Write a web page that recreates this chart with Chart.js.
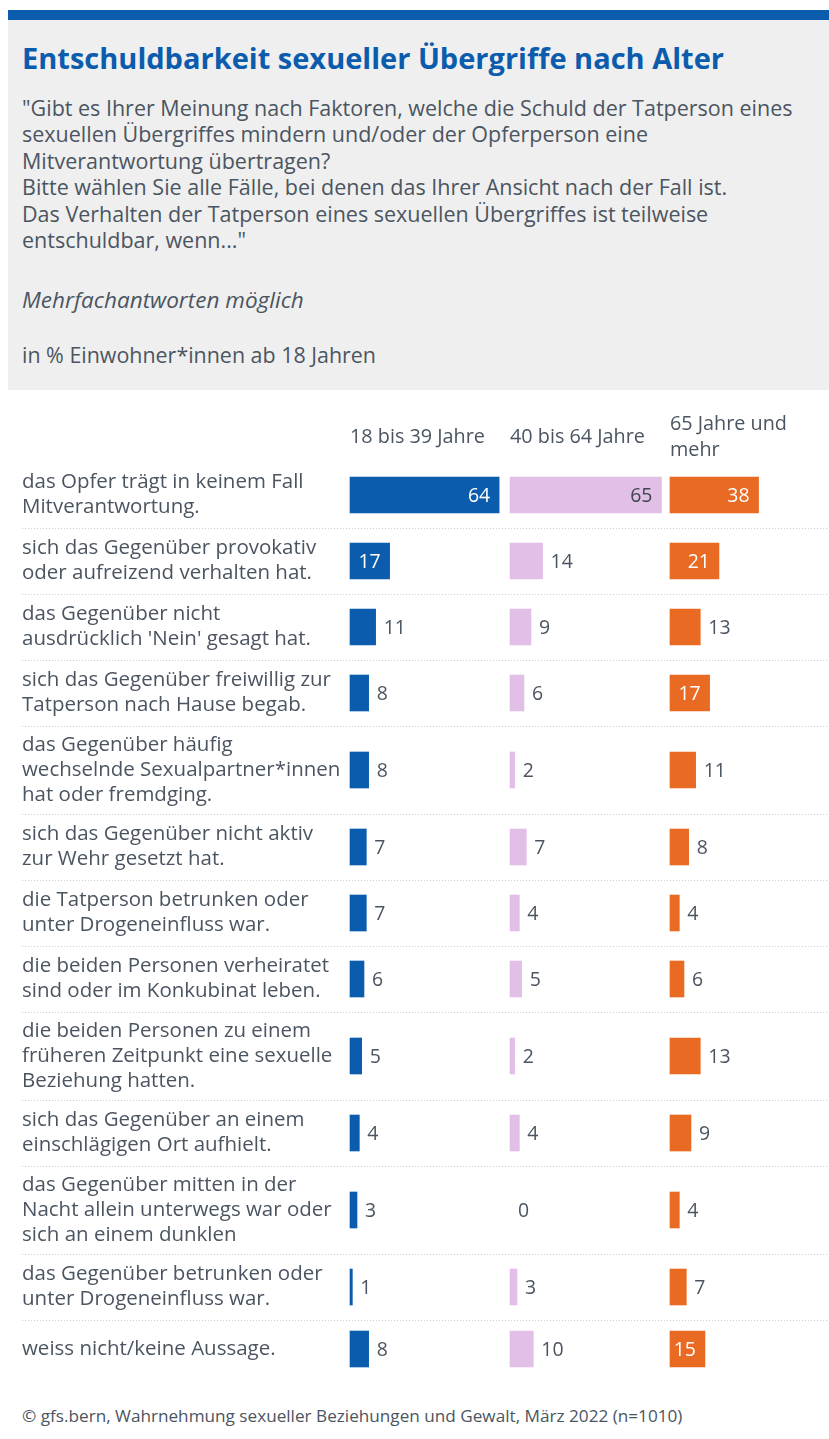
<!DOCTYPE html>
<html lang="de">
<head>
<meta charset="utf-8">
<title>Entschuldbarkeit sexueller Übergriffe nach Alter</title>
<script src="https://cdn.jsdelivr.net/npm/chart.js@4"></script>
<style>
  html, body { margin: 0; padding: 0; background: #fff; }
  body { width: 829px; height: 1439px; position: relative; overflow: hidden; font-family: "Open Sans", "Noto Sans", sans-serif; color: #4b5561; }
  .band { position: absolute; left: 8px; top: 10px; width: 821px; height: 10px; background: #0b5cad; }
  .head { position: absolute; left: 8px; top: 20px; width: 821px; height: 370px; background: #efefef; }
  .title { position: absolute; left: 22px; top: 40px; font-size: 28px; line-height: 36px; font-weight: 700; color: #0b5cad; white-space: nowrap; }
  .txt { position: absolute; left: 22px; font-size: 20px; line-height: 26.4px; white-space: nowrap; }
  .q { top: 95px; }
  .multi { top: 287px; font-style: italic; }
  .unit { top: 342px; }
  #chart { position: absolute; left: 0; top: 400px; }
  .foot { position: absolute; left: 22px; top: 1404px; font-size: 17px; line-height: 24px; white-space: nowrap; }
</style>
</head>
<body>
<div class="band"></div>
<div class="head"></div>
<div class="title" data-fit="702">Entschuldbarkeit sexueller Übergriffe nach Alter</div>
<div class="txt q"><span data-fit="771">"Gibt es Ihrer Meinung nach Faktoren, welche die Schuld der Tatperson eines</span><br>sexuellen Übergriffes mindern und/oder der Opferperson eine<br>Mitverantwortung übertragen?<br>Bitte wählen Sie alle Fälle, bei denen das Ihrer Ansicht nach der Fall ist.<br>Das Verhalten der Tatperson eines sexuellen Übergriffes ist teilweise<br>entschuldbar, wenn..."</div>
<div class="txt multi" data-fit="282">Mehrfachantworten möglich</div>
<div class="txt unit" data-fit="354">in % Einwohner*innen ab 18 Jahren</div>
<canvas id="chart" width="829" height="990"></canvas>
<div class="foot" data-fit="661">© gfs.bern, Wahrnehmung sexueller Beziehungen und Gewalt, März 2022 (n=1010)</div>

<script>
const categories = [
  ['das Opfer trägt in keinem Fall', 'Mitverantwortung.'],
  ['sich das Gegenüber provokativ', 'oder aufreizend verhalten hat.'],
  ['das Gegenüber nicht', "ausdrücklich 'Nein' gesagt hat."],
  ['sich das Gegenüber freiwillig zur', 'Tatperson nach Hause begab.'],
  ['das Gegenüber häufig', 'wechselnde Sexualpartner*innen', 'hat oder fremdging.'],
  ['sich das Gegenüber nicht aktiv', 'zur Wehr gesetzt hat.'],
  ['die Tatperson betrunken oder', 'unter Drogeneinfluss war.'],
  ['die beiden Personen verheiratet', 'sind oder im Konkubinat leben.'],
  ['die beiden Personen zu einem', 'früheren Zeitpunkt eine sexuelle', 'Beziehung hatten.'],
  ['sich das Gegenüber an einem', 'einschlägigen Ort aufhielt.'],
  ['das Gegenüber mitten in der', 'Nacht allein unterwegs war oder', 'sich an einem dunklen'],
  ['das Gegenüber betrunken oder', 'unter Drogeneinfluss war.'],
  ['weiss nicht/keine Aussage.'],
];

const seriesNames = [['18 bis 39 Jahre'], ['40 bis 64 Jahre'], ['65 Jahre und', 'mehr']];
const age18to39 = [64, 17, 11, 8, 8, 7, 7, 6, 5, 4, 3, 1, 8];
const age40to64 = [65, 14, 9, 6, 2, 7, 4, 5, 2, 4, 0, 3, 10];
const age65plus = [38, 21, 13, 17, 11, 8, 4, 6, 13, 9, 4, 7, 15];

// layout
const W = 829, H = 990;
const colStart = [350, 510, 670];
const pxPerUnit = 2.33;
const labelX = 22;
const headerY = 37;
const rowsTop = 62;
const lineH = 25;
const insideMin = 15;
const colors = ['#0b5cad', '#e1bfe7', '#e96a22'];
const insideText = ['#ffffff', '#3d4650', '#ffffff'];
const textColor = '#4b5561';
const family = '"Open Sans", "Noto Sans", sans-serif';

// the original uses a narrower face; size text so widths match
const measure = document.createElement('canvas').getContext('2d');
function fitSize(text, style, target) {
  measure.font = `${style} 20px ${family}`;
  return 20 * target / measure.measureText(text).width;
}
document.querySelectorAll('[data-fit]').forEach(el => {
  const cs = getComputedStyle(el);
  const style = `${cs.fontStyle} ${cs.fontWeight}`;
  el.style.fontSize = fitSize(el.textContent, style, +el.dataset.fit).toFixed(2) + 'px';
});
// the question block takes the size of its first line
const q = document.querySelector('.q');
q.style.fontSize = q.querySelector('span').style.fontSize;

const labelSize = fitSize('sich das Gegenüber freiwillig zur', 'normal 400', 309);
const headSize = fitSize('18 bis 39 Jahre', 'normal 400', 135);
const font = `${labelSize.toFixed(2)}px ${family}`;
const headFont = `${headSize.toFixed(2)}px ${family}`;
const valueFont = `${(labelSize * 0.95).toFixed(2)}px ${family}`;

// row heights depend on how many lines the label has
const rowHeight = lines => Math.max(58, 22 + 22 * lines);
const rowTops = [];
let acc = rowsTop;
categories.forEach(c => { rowTops.push(acc); acc += rowHeight(c.length); });
const rowCenters = categories.map((c, i) => rowTops[i] + rowHeight(c.length) / 2);

const series = [age18to39, age40to64, age65plus];

const xAxis = k => ({
  type: 'linear',
  display: false,
  min: -colStart[k] / pxPerUnit,
  max: (W - colStart[k]) / pxPerUnit,
});

const tablePlugin = {
  id: 'tableText',
  beforeDatasetsDraw(chart) {
    const { ctx } = chart;
    ctx.save();
    ctx.fillStyle = textColor;
    ctx.textBaseline = 'middle';
    ctx.textAlign = 'left';

    // column headers
    ctx.font = headFont;
    seriesNames.forEach((lines, k) => {
      lines.forEach((t, j) => {
        const y = headerY + (j - (lines.length - 1) / 2) * 26;
        ctx.fillText(t, colStart[k], y);
      });
    });

    // row labels
    ctx.font = font;
    categories.forEach((lines, i) => {
      lines.forEach((t, j) => {
        const y = rowCenters[i] + (j - (lines.length - 1) / 2) * lineH;
        ctx.fillText(t, labelX, y);
      });
    });

    // dotted separators
    ctx.strokeStyle = '#cfcfcf';
    ctx.lineWidth = 1;
    ctx.setLineDash([1, 2]);
    for (let i = 1; i < rowTops.length; i++) {
      const y = Math.round(rowTops[i]) + 0.5;
      ctx.beginPath();
      ctx.moveTo(labelX, y);
      ctx.lineTo(W, y);
      ctx.stroke();
    }
    ctx.restore();
  },
  afterDatasetsDraw(chart) {
    const { ctx } = chart;
    ctx.save();
    ctx.font = valueFont;
    ctx.textBaseline = 'middle';
    chart.data.datasets.forEach((ds, k) => {
      chart.getDatasetMeta(k).data.forEach((bar, i) => {
        const v = ds.data[i].x;
        if (v >= insideMin) {
          ctx.textAlign = 'right';
          ctx.fillStyle = insideText[k];
          ctx.fillText(String(v), bar.x - 9, bar.y + 1);
        } else {
          ctx.textAlign = 'left';
          ctx.fillStyle = textColor;
          ctx.fillText(String(v), bar.x + 8, bar.y + 1);
        }
      });
    });
    ctx.restore();
  }
};

new Chart(document.getElementById('chart'), {
  type: 'bar',
  plugins: [tablePlugin],
  data: {
    datasets: series.map((vals, k) => ({
      label: seriesNames[k].join(' '),
      data: vals.map((v, i) => ({ x: v, y: rowCenters[i] })),
      xAxisID: 'x' + k,
      // zero bars leave no hairline
      backgroundColor: ctx => (ctx.raw && ctx.raw.x === 0 ? 'rgba(0,0,0,0)' : colors[k]),
      borderWidth: 0,
      barThickness: 36,
      grouped: false,
    }))
  },
  options: {
    indexAxis: 'y',
    responsive: false,
    animation: false,
    layout: { padding: 0 },
    scales: {
      x0: xAxis(0),
      x1: xAxis(1),
      x2: xAxis(2),
      y: { type: 'linear', display: false, offset: false, min: 0, max: H, reverse: true },
    },
    plugins: {
      legend: { display: false },
      tooltip: { enabled: false },
    },
  },
});
</script>
</body>
</html>
